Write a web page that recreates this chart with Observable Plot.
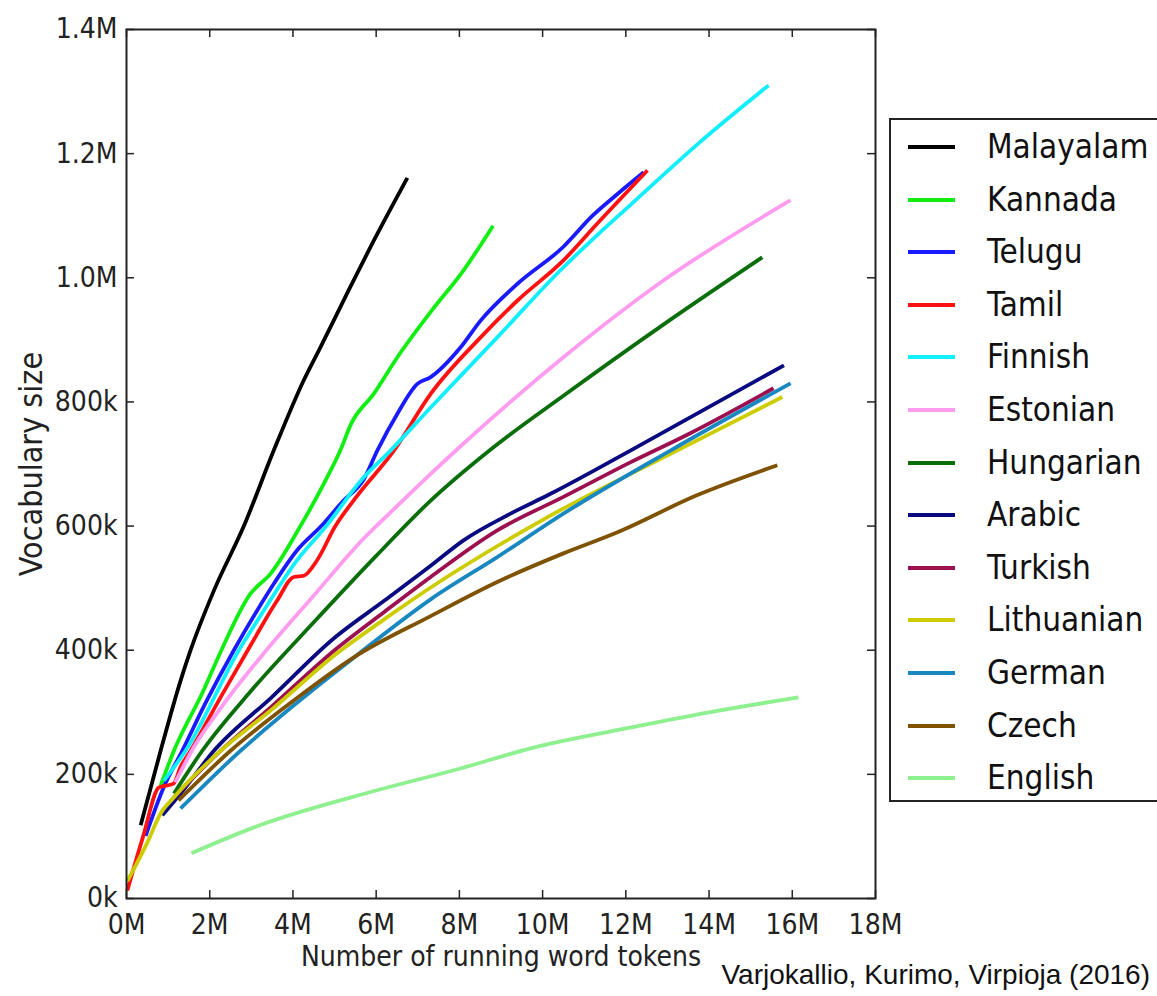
<!DOCTYPE html>
<html>
<head>
<meta charset="utf-8">
<script src="https://cdn.jsdelivr.net/npm/d3@7"></script>
<script src="https://cdn.jsdelivr.net/npm/@observablehq/plot@0.6"></script>
<style>
  html, body { margin: 0; padding: 0; background: #fff; }
  #wrap { position: relative; width: 1157px; height: 996px; overflow: hidden; background: #fff; }
  #chart { position: absolute; left: 0; top: 0; }
  #legend { position: absolute; left: 889px; top: 118px; width: 320px; height: 684px;
            border: 2px solid #222; box-sizing: border-box; background: #fff; }
  .item { position: absolute; left: 0; height: 40px; width: 300px; }
  .sw { position: absolute; left: 17px; top: 18px; width: 47px; height: 4px; }
  .lab { position: absolute; left: 96px; top: 0; line-height: 40px; font-family: "DejaVu Sans Condensed", "DejaVu Sans", sans-serif;
         font-size: 33px; color: #111; white-space: nowrap; }
  #caption { position: absolute; right: 7px; top: 958px; font-family: "Liberation Sans", Arial, sans-serif;
             font-size: 28px; line-height: 34px; color: #111; white-space: nowrap; }
</style>
</head>
<body>
<div id="wrap">
  <div id="chart"></div>
  <div id="legend"></div>
  <div id="caption">Varjokallio, Kurimo, Virpioja (2016)</div>
</div>
<script>
// x in millions of running word tokens, y in thousands of vocabulary entries
const languages = ["Malayalam","Kannada","Telugu","Tamil","Finnish","Estonian","Hungarian","Arabic","Turkish","Lithuanian","German","Czech","English"];
const colors = ["#000000","#11ee11","#1a1aff","#ff1111","#11eeff","#ff9cf0","#0a6e0a","#0a0a80","#9c1050","#cccc00","#1a88c0","#7f5200","#8ef08e"];

const malayalam = [[0.34,118],[0.82,238],[1.3,351],[1.54,400],[2.1,496],[2.82,600],[3.54,722],[4.26,835],[4.66,888],[5.34,980],[6.03,1071],[6.75,1161]];
const kannada = [[0.82,182],[1.14,238],[1.85,335],[2.28,400],[2.98,491],[3.46,523],[4.18,600],[4.74,668],[5.14,722],[5.4,765],[5.94,813],[6.51,872],[7.31,945],[8.1,1012],[8.81,1084]];
const telugu = [[0.46,101],[0.9,180],[1.34,238],[1.9,315],[2.58,400],[3.14,464],[3.54,507],[4.1,561],[4.68,600],[5.2,640],[5.7,675],[6.03,722],[6.51,781],[6.99,829],[7.31,840],[8.03,888],[8.51,931],[9.39,990],[10.5,1050],[11.2,1100],[11.8,1135],[12.43,1170]];
const tamil = [[0.02,13],[0.4,100],[0.78,179],[1.13,185],[1.3,212],[1.54,238],[2.26,324],[3.0,410],[3.62,480],[4.02,518],[4.26,520],[4.58,545],[5.02,600],[5.5,645],[6.43,722],[7.31,813],[8.51,904],[9.39,963],[10.5,1028],[11.31,1087],[12.52,1173]];
const finnish = [[0.9,190],[1.42,238],[2.7,400],[3.3,464],[4.1,545],[4.8,600],[5.63,673],[6.35,722],[7.31,791],[8.91,904],[10.5,1017],[11.3,1068],[12.12,1118],[13.72,1215],[15.43,1310]];
const estonian = [[1.17,187],[1.62,244],[2.3,310],[3.3,395],[4.46,485],[5.7,580],[6.5,632],[7.31,684],[8.1,733],[10.5,872],[12.91,996],[15.96,1125]];
const hungarian = [[1.14,169],[1.82,238],[3.0,335],[4.5,445],[6.0,552],[7.31,641],[8.82,727],[10.5,810],[12.91,925],[15.28,1033]];
const arabic = [[0.86,134],[1.3,169],[2.1,238],[3.5,325],[5.0,420],[6.2,480],[7.31,536],[8.1,577],[9.23,620],[10.19,652],[12.12,722],[15.8,859]];
const turkish = [[1.14,163],[2.26,238],[3.5,310],[5.0,400],[6.2,462],[7.31,518],[8.91,593],[10.5,647],[12.12,703],[13.5,748],[15.55,822]];
const lithuanian = [[0.02,28],[0.5,90],[0.82,137],[1.14,163],[2.26,238],[3.5,305],[5.0,392],[6.2,450],[7.31,501],[10.11,614],[13.24,722],[15.76,808]];
const german = [[1.3,145],[2.74,238],[4.0,310],[5.5,390],[7.31,482],[8.91,550],[10.5,620],[13.08,722],[15.96,830]];
const czech = [[1.25,158],[2.5,238],[4.0,318],[5.5,390],[7.31,455],[8.91,510],[10.5,556],[11.8,590],[13.72,650],[15.64,698]];
const english = [[1.56,73],[3.2,118],[6.0,174],[8.0,209],[9.71,242],[12.0,274],[14.0,300],[16.15,324]];

const xTicks = [0,2,4,6,8,10,12,14,16,18];
const xTickLabels = ["0M","2M","4M","6M","8M","10M","12M","14M","16M","18M"];
const yTicks = [0,200,400,600,800,1000,1200,1400];
const yTickLabels = ["0k","200k","400k","600k","800k","1.0M","1.2M","1.4M"];
const xTitle = "Number of running word tokens";
const yTitle = "Vocabulary size";

const seriesList = [malayalam,kannada,telugu,tamil,finnish,estonian,hungarian,arabic,turkish,lithuanian,german,czech,english];
const rows = [];
seriesList.forEach((s, i) => s.forEach(([m, k]) => rows.push({lang: languages[i], m, k})));

const xLab = new Map(xTicks.map((t, i) => [t, xTickLabels[i]]));
const yLab = new Map(yTicks.map((t, i) => [t, yTickLabels[i]]));

const W = 1157, H = 996, mL = 126, mR = 282, mT = 29, mB = 98;
const plotW = W - mL - mR, plotH = H - mT - mB;
const tickLen = 8;

const chart = Plot.plot({
  width: W, height: H,
  marginLeft: mL, marginRight: mR, marginTop: mT, marginBottom: mB,
  style: {fontFamily: "'DejaVu Sans Condensed', 'DejaVu Sans', sans-serif", fontSize: "28px", color: "#222", background: "transparent", overflow: "visible"},
  x: {domain: [0, 18]},
  y: {domain: [0, 1400]},
  color: {domain: languages, range: colors},
  marks: [
    Plot.line(rows, {x: "m", y: "k", z: "lang", stroke: "lang", strokeWidth: 3.8, curve: "monotone-x", strokeLinecap: "butt"}),
    Plot.frame({stroke: "#222", strokeWidth: 2}),
    Plot.tickX(xTicks, {x: d => d, insetTop: plotH - tickLen, stroke: "#222", strokeWidth: 1.5}),
    Plot.tickX(xTicks, {x: d => d, insetBottom: plotH - tickLen, stroke: "#222", strokeWidth: 1.5}),
    Plot.tickY(yTicks, {y: d => d, insetRight: plotW - tickLen, stroke: "#222", strokeWidth: 1.5}),
    Plot.tickY(yTicks, {y: d => d, insetLeft: plotW - tickLen, stroke: "#222", strokeWidth: 1.5}),
    Plot.axisX(xTicks, {tickSize: 0, tickPadding: 16, tickFormat: d => xLab.get(d), label: null}),
    Plot.axisY(yTicks, {tickSize: 0, tickPadding: 9, tickFormat: d => yLab.get(d), label: null}),
    Plot.text([xTitle], {text: d => d, frameAnchor: "bottom", dy: 59, textAnchor: "middle", lineAnchor: "middle", fontSize: 28, fill: "#222"}),
    Plot.text([yTitle], {text: d => d, frameAnchor: "left", dx: -95, rotate: -90, textAnchor: "middle", lineAnchor: "middle", fontSize: 32, fill: "#222"})
  ]
});
document.getElementById("chart").appendChild(chart);

const legend = document.getElementById("legend");
languages.forEach((name, i) => {
  const item = document.createElement("div");
  item.className = "item";
  item.style.top = (27 + 52.6 * i - 20) + "px";
  const sw = document.createElement("div");
  sw.className = "sw";
  sw.style.background = colors[i];
  const lab = document.createElement("div");
  lab.className = "lab";
  lab.textContent = name;
  item.appendChild(sw);
  item.appendChild(lab);
  legend.appendChild(item);
});
</script>
</body>
</html>
